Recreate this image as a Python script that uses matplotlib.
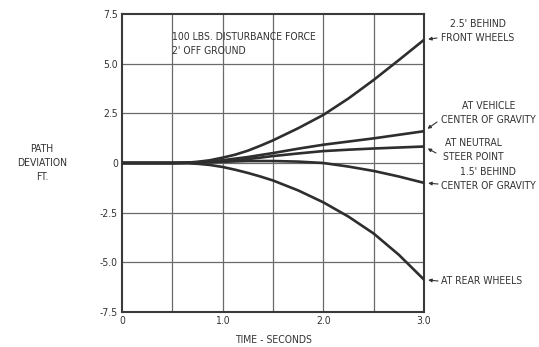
import matplotlib
matplotlib.use('Agg')
import matplotlib.pyplot as plt

plt.rcParams['font.family'] = ['DejaVu Sans']
plt.rcParams['font.stretch'] = 'condensed'

# time in seconds and path deviation (ft)
t = [0, 0.25, 0.5, 0.625, 0.75, 0.875, 1.0, 1.125, 1.25, 1.375, 1.5,
     1.75, 2.0, 2.25, 2.5, 2.75, 3.0]
front = [0, 0, 0, 0.01, 0.06, 0.14, 0.27, 0.42, 0.62, 0.87, 1.14,
         1.75, 2.42, 3.25, 4.18, 5.18, 6.2]
cg = [0, 0, 0, 0.01, 0.04, 0.08, 0.14, 0.22, 0.3, 0.4, 0.5,
      0.72, 0.92, 1.08, 1.24, 1.42, 1.6]
neutral = [0, 0, 0, 0.01, 0.03, 0.06, 0.1, 0.15, 0.2, 0.27, 0.35,
           0.48, 0.6, 0.67, 0.73, 0.78, 0.83]
behind_cg = [0, 0, 0, 0.01, 0.02, 0.04, 0.06, 0.08, 0.1, 0.1, 0.1,
             0.07, 0.0, -0.18, -0.4, -0.68, -1.0]
rear = [0, 0, 0, -0.01, -0.04, -0.1, -0.2, -0.34, -0.5, -0.68, -0.88,
        -1.38, -1.98, -2.7, -3.55, -4.62, -5.87]

x_ticks = [0, 1.0, 2.0, 3.0]
x_labels = ['0', '1.0', '2.0', '3.0']
y_ticks = [7.5, 5.0, 2.5, 0, -2.5, -5.0, -7.5]
y_labels = ['7.5', '5.0', '2.5', '0', '-2.5', '-5.0', '-7.5']

W, H = 539, 347
fig = plt.figure(figsize=(W / 100, H / 100), dpi=100)
ax = fig.add_axes([122 / W, 35 / H, 302 / W, 298 / H])

ink = '#2e2e2e'
txt = '#333333'
fs = 7.5

# grid every 0.5 s
for gx in [0.5, 1.0, 1.5, 2.0, 2.5]:
    ax.axvline(gx, color='#6a6a6a', lw=0.9, zorder=1)
for gy in [5.0, 2.5, 0, -2.5, -5.0]:
    ax.axhline(gy, color='#6a6a6a', lw=0.9, zorder=1)

for series in [front, cg, neutral, behind_cg, rear]:
    ax.plot(t, series, color=ink, lw=1.9, solid_capstyle='round',
            solid_joinstyle='round', zorder=3)

ax.set_xlim(0, 3.0)
ax.set_ylim(-7.5, 7.5)
ax.set_xticks(x_ticks)
ax.set_xticklabels(x_labels, fontsize=fs, color=txt)
ax.set_yticks(y_ticks)
ax.set_yticklabels(y_labels, fontsize=fs, color=txt)
ax.tick_params(length=0, pad=3)
for s in ax.spines.values():
    s.set_color('#3a3a3a')
    s.set_linewidth(1.5)

# axis titles
fig.text(42 / W, 1 - 163 / H, 'PATH\nDEVIATION\nFT.', ha='center', va='center',
         fontsize=fs, color=txt, linespacing=1.5)
fig.text(273 / W, 1 - 340 / H, 'TIME - SECONDS', ha='center', va='center',
         fontsize=fs, color=txt)

# note in the plot
fig.text(172 / W, 1 - 44 / H, "100 LBS. DISTURBANCE FORCE\n2' OFF GROUND",
         ha='left', va='center', fontsize=fs, color=txt, linespacing=1.4)

# curve labels on the right
labels = [
    ("2.5' BEHIND\nFRONT WHEELS", front[-1], (441, 31), (437, 38)),
    ("AT VEHICLE\nCENTER OF GRAVITY", cg[-1], (441, 113), (437, 122)),
    ("AT NEUTRAL\nSTEER POINT", neutral[-1], (443, 150), (436, 153)),
    ("1.5' BEHIND\nCENTER OF GRAVITY", behind_cg[-1], (441, 179), (438, 184)),
    ("AT REAR WHEELS", rear[-1], (441, 281), (438, 281)),
]
for text, yv, (tx, ty), (ax0, ay0) in labels:
    fig.text(tx / W, 1 - ty / H, text, ha='left', va='center', fontsize=fs,
             color=txt, linespacing=1.4, multialignment='center')
    ax.annotate('', xy=(3.0, yv), xycoords='data',
                xytext=(ax0, H - ay0), textcoords='figure pixels',
                arrowprops=dict(arrowstyle='-|>', color=txt, lw=0.8,
                                mutation_scale=5, shrinkA=0, shrinkB=3))

fig.savefig('out.png', dpi=100, facecolor='white')
